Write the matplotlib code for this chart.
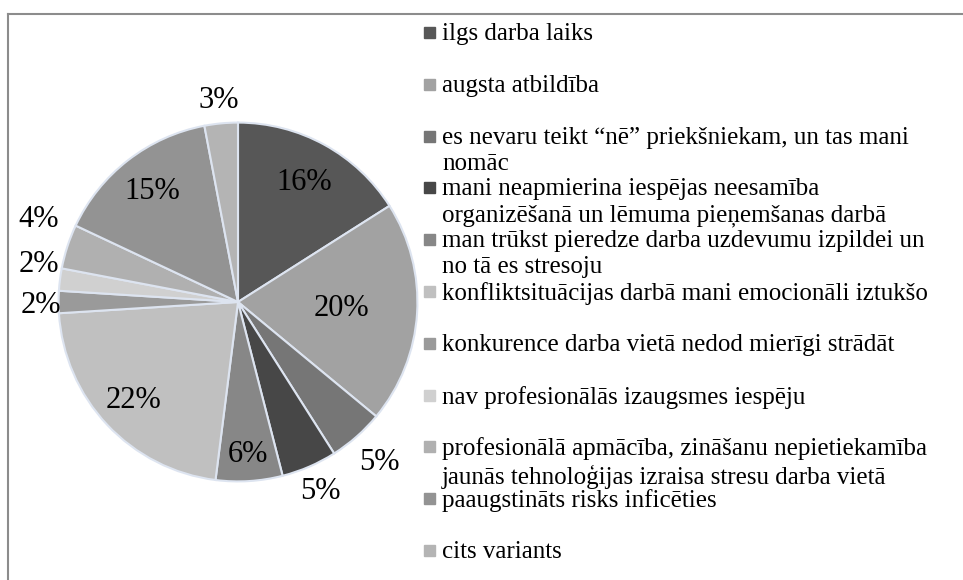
import numpy as np
import matplotlib
matplotlib.use("Agg")
import matplotlib.pyplot as plt
from matplotlib.patches import Rectangle

plt.rcParams['font.family'] = ['Liberation Serif', 'DejaVu Serif']

# datos (%)
categorias = [
    "ilgs darba laiks",
    "augsta atbildība",
    "es nevaru teikt “nē” priekšniekam, un tas mani\nnomāc",
    "mani neapmierina iespējas neesamība\norganizēšanā un lēmuma pieņemšanas darbā",
    "man trūkst pieredze darba uzdevumu izpildei un\nno tā es stresoju",
    "konfliktsituācijas darbā mani emocionāli iztukšo",
    "konkurence darba vietā nedod mierīgi strādāt",
    "nav profesionālās izaugsmes iespēju",
    "profesionālā apmācība, zināšanu nepietiekamība\njaunās tehnoloģijas izraisa stresu darba vietā",
    "paaugstināts risks inficēties",
    "cits variants",
]
valores = [16, 20, 5, 5, 6, 22, 2, 2, 4, 15, 3]
colores = ["#575757", "#a2a2a2", "#767676", "#474747", "#878787", "#c0c0c0",
           "#9a9a9a", "#d0d0d0", "#b0b0b0", "#939393", "#b4b4b4"]

# distancia de cada etiqueta al centro (radio = 1) y ajuste vertical
dist_etiquetas = [0.76, 0.58, 1.19, 1.15, 0.85, 0.80, 1.10, 1.12, 1.17, 0.78, 1.13]
ajuste_y = [0, 0, 0, 0, 0, 0, -0.02, 0.07, 0.10, 0, 0]

W, H = 963, 580
fig = plt.figure(figsize=(W / 100, H / 100), dpi=100)

# marco gris (arriba e izquierda)
fig.add_artist(plt.Line2D([8 / W, 1], [1 - 14 / H, 1 - 14 / H], color="#8c8c8c", lw=1.5))
fig.add_artist(plt.Line2D([8 / W, 8 / W], [0, 1 - 14 / H], color="#8c8c8c", lw=1.5))

cx, cy, r = 238, 302, 183
ax = fig.add_axes([(cx - r) / W, (H - cy - r) / H, 2 * r / W, 2 * r / H])
wedges, _ = ax.pie(valores, colors=colores, startangle=90, counterclock=False,
                   wedgeprops=dict(edgecolor="#dde4f0", linewidth=1.5), radius=1)
ax.set_xlim(-1.02, 1.02)
ax.set_ylim(-1.02, 1.02)
ax.set_aspect("equal")
ax.axis("off")

for w, v, d, dy in zip(wedges, valores, dist_etiquetas, ajuste_y):
    ang = np.deg2rad((w.theta1 + w.theta2) / 2)
    ax.text(d * np.cos(ang), d * np.sin(ang) + dy, f"{v}%", ha="center", va="center",
            fontsize=22, color="black", clip_on=False)

# leyenda manual (cada entrada a la misma distancia)
y0, paso = 32, 51.8
for i, (lab, col) in enumerate(zip(categorias, colores)):
    y = y0 + i * paso
    fig.add_artist(Rectangle((424 / W, 1 - (y + 6) / H), 11 / W, 11 / H,
                             transform=fig.transFigure, color=col))
    fig.text(442 / W, 1 - (y - 9) / H, lab, ha="left", va="top",
             fontsize=18, linespacing=1.25, color="black")

fig.savefig("out.png", dpi=100)
